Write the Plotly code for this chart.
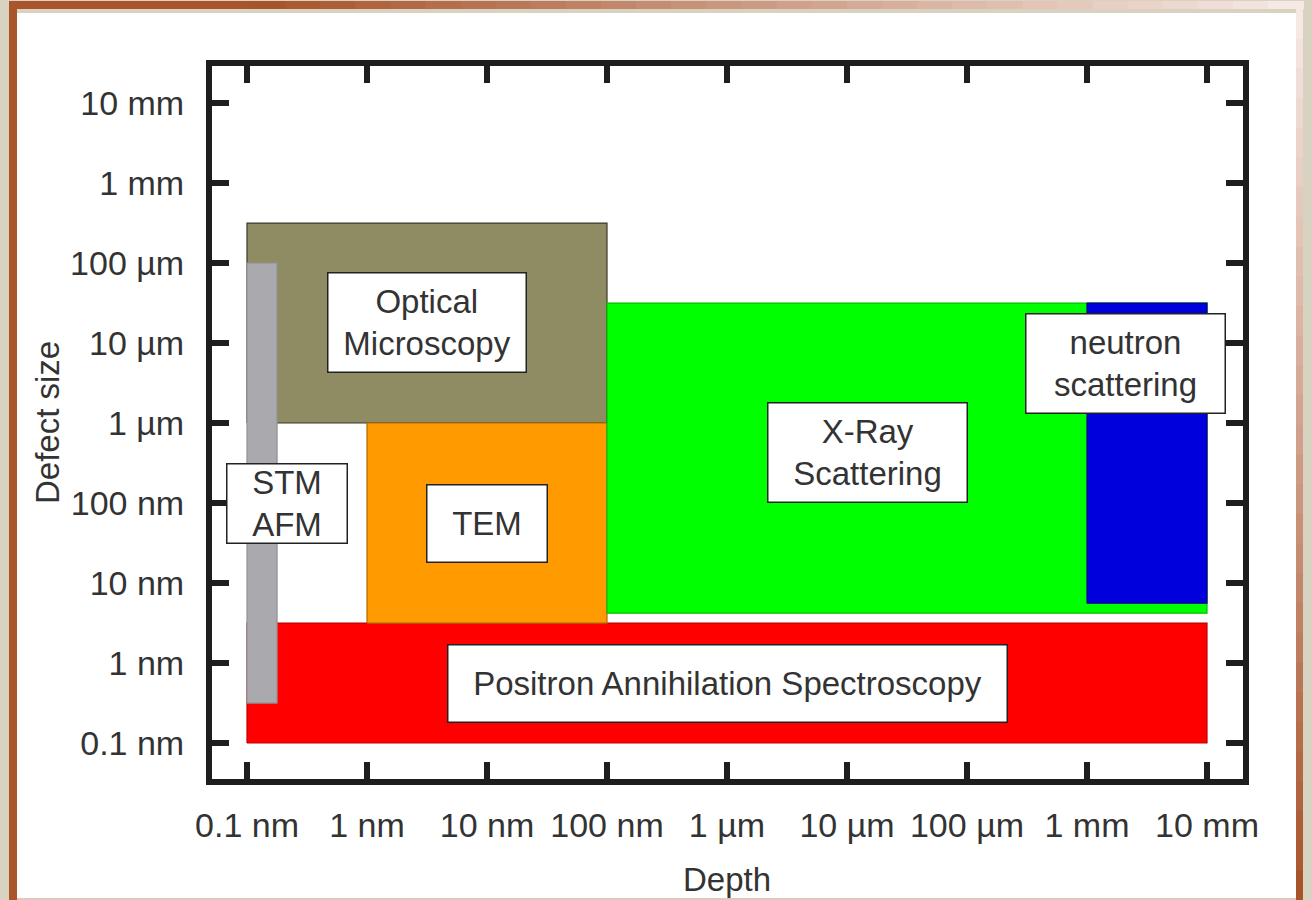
import numpy as np
import plotly.graph_objects as go

# ---------------- data (metres) ----------------
techniques = ["Positron Annihilation Spectroscopy", "Optical Microscopy", "TEM",
              "X-Ray Scattering", "neutron scattering", "STM AFM"]
depth_min = [1e-10, 1e-10, 1e-9, 1e-7, 1e-3, 1e-10]
depth_max = [1e-2, 1e-7, 1e-7, 1e-2, 1e-2, 1.78e-10]
size_min = [1e-10, 1e-6, 3.16e-9, 4.2e-9, 5.6e-9, 3.16e-10]
size_max = [3.16e-9, 3.16e-4, 1e-6, 3.16e-5, 3.16e-5, 1e-4]
fill_colors = ["#ff0000", "#8f8b63", "#ff9a00", "#00ff00", "#0000dc", "#aaaaae"]
edge_colors = ["#c00000", "#3a3a2a", "#b06a00", "#00c000", "#00008a", "#909094"]

tick_vals = [1e-10, 1e-9, 1e-8, 1e-7, 1e-6, 1e-5, 1e-4, 1e-3, 1e-2]
x_tick_text = ["0.1 nm", "1 nm", "10 nm", "100 nm", "1 µm", "10 µm", "100 µm", "1 mm", "10 mm"]
y_tick_text = ["0.1 nm", "1 nm", "10 nm", "100 nm", "1 µm", "10 µm", "100 µm", "1 mm", "10 mm"]

label_texts = ["Positron Annihilation Spectroscopy", "Optical<br>Microscopy", "TEM",
               "X-Ray<br>Scattering", "neutron<br>scattering", "STM<br>AFM"]
label_x = [1e-6, 3.16e-9, 1e-8, 1.47e-5, 2.11e-3, 2.15e-10]
label_y = [5.47e-10, 1.78e-5, 5.47e-8, 4.22e-7, 5.62e-6, 1e-7]
label_w = [558, 197, 119, 198, 198, 119]
label_h = [76, 98, 76, 98, 98, 78]

# ---------------- layout geometry ----------------
W, H = 1312, 900
L, R, T, B = 212, 1243, 66, 779
FONT = "Liberation Sans, Arial, sans-serif"
TXT = "#333333"
FS = 34


def px(xp):
    return (xp - L) / (R - L)


def py(yp):
    return (B - yp) / (B - T)


fig = go.Figure()

for i, name in enumerate(techniques):
    x0, x1 = depth_min[i], depth_max[i]
    y0, y1 = size_min[i], size_max[i]
    fig.add_trace(go.Scatter(
        x=[x0, x1, x1, x0, x0], y=[y0, y0, y1, y1, y0],
        mode="lines", fill="toself", fillcolor=fill_colors[i],
        line=dict(color=edge_colors[i], width=1.2),
        name=name, hoverinfo="name", showlegend=False))

annotations = []
for i, t in enumerate(label_texts):
    annotations.append(dict(
        x=np.log10(label_x[i]), y=np.log10(label_y[i]), xref="x", yref="y",
        text=t, showarrow=False, width=label_w[i], height=label_h[i],
        bgcolor="white", bordercolor="#222222", borderwidth=1.5, borderpad=0,
        font=dict(family=FONT, size=FS - 1, color=TXT), align="center", valign="middle"))

annotations.append(dict(x=px(47), y=py(423), xref="paper", yref="paper",
                        xanchor="center", yanchor="middle",
                        text="Defect size", textangle=-90, showarrow=False,
                        font=dict(family=FONT, size=FS - 1, color=TXT)))
annotations.append(dict(x=px(727), y=py(879), xref="paper", yref="paper",
                        xanchor="center", yanchor="middle",
                        text="Depth", showarrow=False,
                        font=dict(family=FONT, size=FS - 1, color=TXT)))

# ---------------- decorative frame ----------------
shapes = []
beige = "#d8d2c0"
shapes.append(dict(type="rect", xref="paper", yref="paper", x0=px(9), x1=px(1303),
                   y0=py(905), y1=py(1), fillcolor="#a9542b", line=dict(width=0),
                   layer="below"))
n = 30
c0 = np.array([168, 84, 43]); c1 = np.array([246, 232, 228])
for k in range(n):
    a = k / (n - 1)
    c = (c0 * (1 - a) + c1 * a).astype(int)
    xa = 250 + (1303 - 250) * k / n
    xb = 250 + (1303 - 250) * (k + 1) / n
    shapes.append(dict(type="rect", xref="paper", yref="paper", x0=px(xa), x1=px(xb + 1),
                       y0=py(9), y1=py(1), fillcolor=f"rgb({c[0]},{c[1]},{c[2]})",
                       line=dict(width=0), layer="below"))
for k in range(n):
    a = k / (n - 1)
    c = (c1 * (1 - a) * 0.9 + c0 * a + c1 * 0.1 * (1 - a)).astype(int)
    ya = 9 + (900 - 9) * k / n
    yb = 9 + (900 - 9) * (k + 1) / n
    shapes.append(dict(type="rect", xref="paper", yref="paper", x0=px(1296), x1=px(1303),
                       y0=py(yb + 1), y1=py(ya), fillcolor=f"rgb({c[0]},{c[1]},{c[2]})",
                       line=dict(width=0), layer="below"))
shapes.append(dict(type="rect", xref="paper", yref="paper", x0=px(17), x1=px(1296),
                   y0=py(13), y1=py(9), fillcolor=beige, line=dict(width=0), layer="below"))
shapes.append(dict(type="rect", xref="paper", yref="paper", x0=px(17), x1=px(1296),
                   y0=py(898), y1=py(13), fillcolor="white", line=dict(width=0), layer="below"))
shapes.append(dict(type="rect", xref="paper", yref="paper", x0=px(17), x1=px(1296),
                   y0=py(905), y1=py(898), fillcolor="#e2c8bc", line=dict(width=0), layer="below"))

axis_common = dict(
    type="log", showgrid=False, zeroline=False, tickvals=tick_vals,
    ticks="inside", ticklen=17, tickwidth=6, tickcolor="#1e1e1e",
    showline=True, linewidth=6, linecolor="#1e1e1e", mirror="ticks",
    tickfont=dict(family=FONT, size=FS, color=TXT), minor=dict(showgrid=False, ticks=""),
)

fig.update_layout(
    width=W, height=H,
    margin=dict(l=L, r=W - R, t=T, b=H - B, pad=0),
    paper_bgcolor=beige, plot_bgcolor="rgba(0,0,0,0)",
    xaxis=dict(axis_common, range=[-10.2917, -1.7], ticktext=x_tick_text, ticklabelstandoff=11),
    yaxis=dict(axis_common, range=[-10.45, -1.5375], ticktext=y_tick_text, ticklabelstandoff=15),
    shapes=shapes, annotations=annotations, showlegend=False,
)

fig.write_html("out.html")
